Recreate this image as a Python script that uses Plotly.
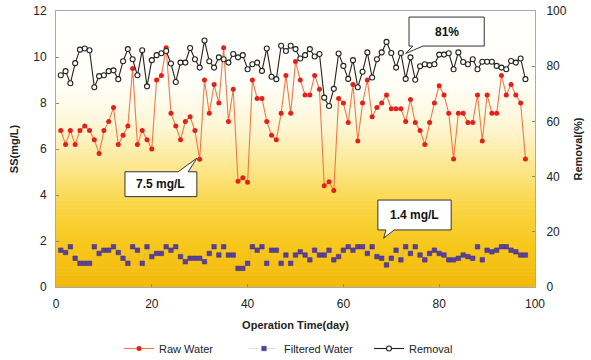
import plotly.graph_objects as go

days = list(range(1, 99))

raw_water = [
    6.8, 6.2, 6.8, 6.2, 6.8, 7.0, 6.8, 6.4, 5.8, 6.8,
    7.2, 7.8, 6.2, 6.6, 7.0, 9.5, 6.2, 6.8, 6.4, 6.0,
    9.0, 9.2, 10.4, 7.55, 7.0, 6.4, 7.2, 7.4, 6.8, 5.55,
    9.0, 7.55, 8.8, 8.0, 10.4, 7.2, 8.6, 4.6, 4.75, 4.55,
    9.0, 8.2, 8.2, 7.2, 6.6, 6.4, 7.55, 9.2, 7.55, 9.8,
    9.0, 8.35, 8.35, 9.2, 8.6, 4.4, 4.58, 4.2, 8.2, 8.0,
    7.15, 8.8, 6.35, 8.0, 9.0, 7.4, 7.8, 8.0, 8.35, 7.75,
    7.75, 7.75, 7.2, 8.15, 7.15, 6.8, 6.2, 7.15, 8.0, 8.75,
    8.35, 7.55, 5.57, 7.55, 7.55, 7.15, 7.15, 8.35, 6.35, 8.35,
    7.55, 7.55, 9.2, 8.35, 8.8, 8.35, 8.0, 5.57,
]

filtered_water = [
    1.6, 1.5, 1.75, 1.25, 1.03, 1.03, 1.03, 1.75, 1.46, 1.6,
    1.6, 1.75, 1.5, 1.25, 1.03, 1.75, 1.6, 1.03, 1.75, 1.32,
    1.46, 1.46, 1.75, 1.6, 1.75, 1.32, 1.1, 1.25, 1.25, 1.25,
    1.1, 1.46, 1.75, 1.39, 1.75, 1.39, 1.39, 0.81, 0.81, 1.03,
    1.75, 1.6, 1.75, 1.03, 1.6, 1.6, 1.03, 1.39, 1.03, 1.39,
    1.53, 1.39, 1.18, 1.6, 1.39, 1.39, 1.6, 1.18, 1.32, 1.6,
    1.75, 1.6, 1.75, 1.75, 1.46, 1.75, 1.32, 1.25, 0.96, 1.25,
    1.6, 1.18, 1.75, 1.46, 1.75, 1.39, 1.18, 1.46, 1.6, 1.46,
    1.39, 1.18, 1.18, 1.25, 1.39, 1.32, 1.25, 1.75, 1.18, 1.6,
    1.53, 1.6, 1.75, 1.75, 1.6, 1.53, 1.39, 1.39,
]

removal = [
    76.7, 78.2, 73.8, 81.1, 86.0, 86.4, 85.8, 72.4, 76.4, 76.7,
    78.2, 78.5, 75.3, 81.8, 86.2, 82.5, 76.7, 85.8, 72.7, 82.2,
    84.0, 84.7, 85.5, 81.0, 74.3, 81.3, 81.3, 86.6, 82.5, 79.5,
    89.3, 81.8, 79.5, 83.2, 82.5, 81.3, 84.4, 83.2, 84.0, 78.9,
    80.7, 81.3, 78.3, 86.4, 76.2, 75.3, 87.4, 85.5, 87.4, 86.2,
    82.8, 84.0, 86.2, 83.5, 84.4, 68.6, 65.6, 71.8, 84.6, 80.1,
    75.4, 82.2, 72.4, 78.0, 85.0, 75.9, 82.5, 85.0, 88.8, 84.8,
    79.5, 84.8, 75.4, 83.2, 75.1, 80.0, 80.7, 80.4, 80.7, 84.2,
    84.2, 84.7, 78.9, 85.0, 81.5, 80.7, 82.5, 78.9, 81.6, 81.6,
    81.6, 80.1, 79.5, 78.9, 81.9, 81.3, 82.8, 75.3,
]

x_ticks = [0, 20, 40, 60, 80, 100]
ss_ticks = [0, 2, 4, 6, 8, 10, 12]
removal_ticks = [0, 20, 40, 60, 80, 100]

callout_ss = ["7.5 mg/L", "1.4 mg/L"]
callout_removal = "81%"

FONT = "Arial, Liberation Sans, sans-serif"

fig = go.Figure()

fig.add_trace(go.Scatter(
    x=days, y=filtered_water, name="Filtered Water", mode="lines+markers",
    line=dict(color="rgba(150,150,235,0.35)", width=1, dash="dash"),
    marker=dict(symbol="square", size=4.5, color="#5a3fa0",
                line=dict(color="#3a2a80", width=0.5)),
    legendrank=2,
))
fig.add_trace(go.Scatter(
    x=days, y=raw_water, name="Raw Water", mode="lines+markers",
    line=dict(color="#f07a45", width=1.1),
    marker=dict(symbol="circle", size=5, color="#e3201b"),
    legendrank=1,
))
fig.add_trace(go.Scatter(
    x=days, y=removal, name="Removal", mode="lines+markers", yaxis="y2",
    line=dict(color="#222222", width=1.1),
    marker=dict(symbol="circle", size=5, color="white",
                line=dict(color="#222222", width=1.1)),
    legendrank=3,
))

# gradient background (white -> yellow/orange)
stops = [(0.0, (255, 255, 255)), (0.28, (255, 254, 246)), (0.42, (254, 246, 212)),
         (0.56, (252, 232, 145)), (0.70, (250, 214, 70)), (0.85, (247, 200, 28)),
         (1.0, (243, 184, 12))]
def col(t):
    for (a, ca), (b, cb) in zip(stops[:-1], stops[1:]):
        if a <= t <= b:
            f = (t - a) / (b - a)
            return "rgb(%d,%d,%d)" % tuple(round(ca[i] + (cb[i] - ca[i]) * f) for i in range(3))
    return "rgb(243,184,12)"
nb = 70
shapes = []
for i in range(nb):
    t = (i + 0.5) / nb  # fraction from top
    shapes.append(dict(type="rect", xref="paper", yref="paper", layer="below",
                       x0=0, x1=1, y0=1 - (i + 1) / nb - 0.002, y1=1 - i / nb,
                       line=dict(width=0), fillcolor=col(t)))

# callouts
shapes.append(dict(type="path", xref="x", yref="y",
                   path="M 14.4,3.93 L 29.4,3.93 L 29.4,5.01 L 27.6,5.01 L 29.4,5.6 L 25.5,5.01 L 14.4,5.01 Z",
                   fillcolor="white", line=dict(color="#333", width=1)))
shapes.append(dict(type="path", xref="x", yref="y",
                   path="M 67.2,3.78 L 82.5,3.78 L 82.5,2.48 L 70.6,2.48 L 68.4,2.12 L 68.9,2.48 L 67.2,2.48 Z",
                   fillcolor="white", line=dict(color="#333", width=1)))
shapes.append(dict(type="path", xref="x", yref="y2",
                   path="M 73.7,97.8 L 89.4,97.8 L 89.4,87.3 L 76.6,87.3 L 73.0,84.6 L 74.5,87.3 L 73.7,87.3 Z",
                   fillcolor="white", line=dict(color="#333", width=1)))

annotations = [
    dict(x=21.9, y=4.47, xref="x", yref="y", text="<b>%s</b>" % callout_ss[0], showarrow=False,
         font=dict(size=12, color="#111", family=FONT)),
    dict(x=74.85, y=3.13, xref="x", yref="y", text="<b>%s</b>" % callout_ss[1], showarrow=False,
         font=dict(size=12, color="#111", family=FONT)),
    dict(x=81.55, y=92.5, xref="x", yref="y2", text="<b>%s</b>" % callout_removal, showarrow=False,
         font=dict(size=12, color="#111", family=FONT)),
]

axis_common = dict(showgrid=False, zeroline=False, showline=True, linecolor="#aaaaaa",
                   linewidth=1, ticks="inside", ticklen=3, tickcolor="#888", automargin=False,
                   tickfont=dict(size=12, color="#222", family=FONT))

fig.update_layout(
    width=591, height=360,
    margin=dict(l=56, r=56, t=11, b=73),
    paper_bgcolor="white", plot_bgcolor="white",
    font=dict(family=FONT, color="#222"),
    shapes=shapes, annotations=annotations,
    xaxis=dict(range=[0, 100], tickvals=x_ticks, mirror=True, ticklabelstandoff=6,
               title=dict(text="<b>Operation Time(day)</b>", font=dict(size=11, family=FONT, color="#222"), standoff=10),
               **axis_common),
    yaxis=dict(range=[0, 12], tickvals=ss_ticks, ticklabelstandoff=6,
               title=dict(text="<b>SS(mg/L)</b>", font=dict(size=11, family=FONT, color="#222"), standoff=12),
               **axis_common),
    yaxis2=dict(range=[0, 100], tickvals=removal_ticks, overlaying="y", side="right", ticklabelstandoff=8,
                title=dict(text="<b>Removal(%)</b>", font=dict(size=11, family=FONT, color="#222"), standoff=8),
                **axis_common),
    legend=dict(orientation="h", x=119 / 591, xanchor="left", xref="container",
                y=(360 - 334) / 360, yanchor="top", yref="container",
                font=dict(size=11, family=FONT, color="#222"), entrywidth=80,
                bgcolor="rgba(0,0,0,0)"),
    showlegend=True,
)

fig.write_html("out.html", config={"displayModeBar": False},
               post_script="document.body.style.margin='0';")
